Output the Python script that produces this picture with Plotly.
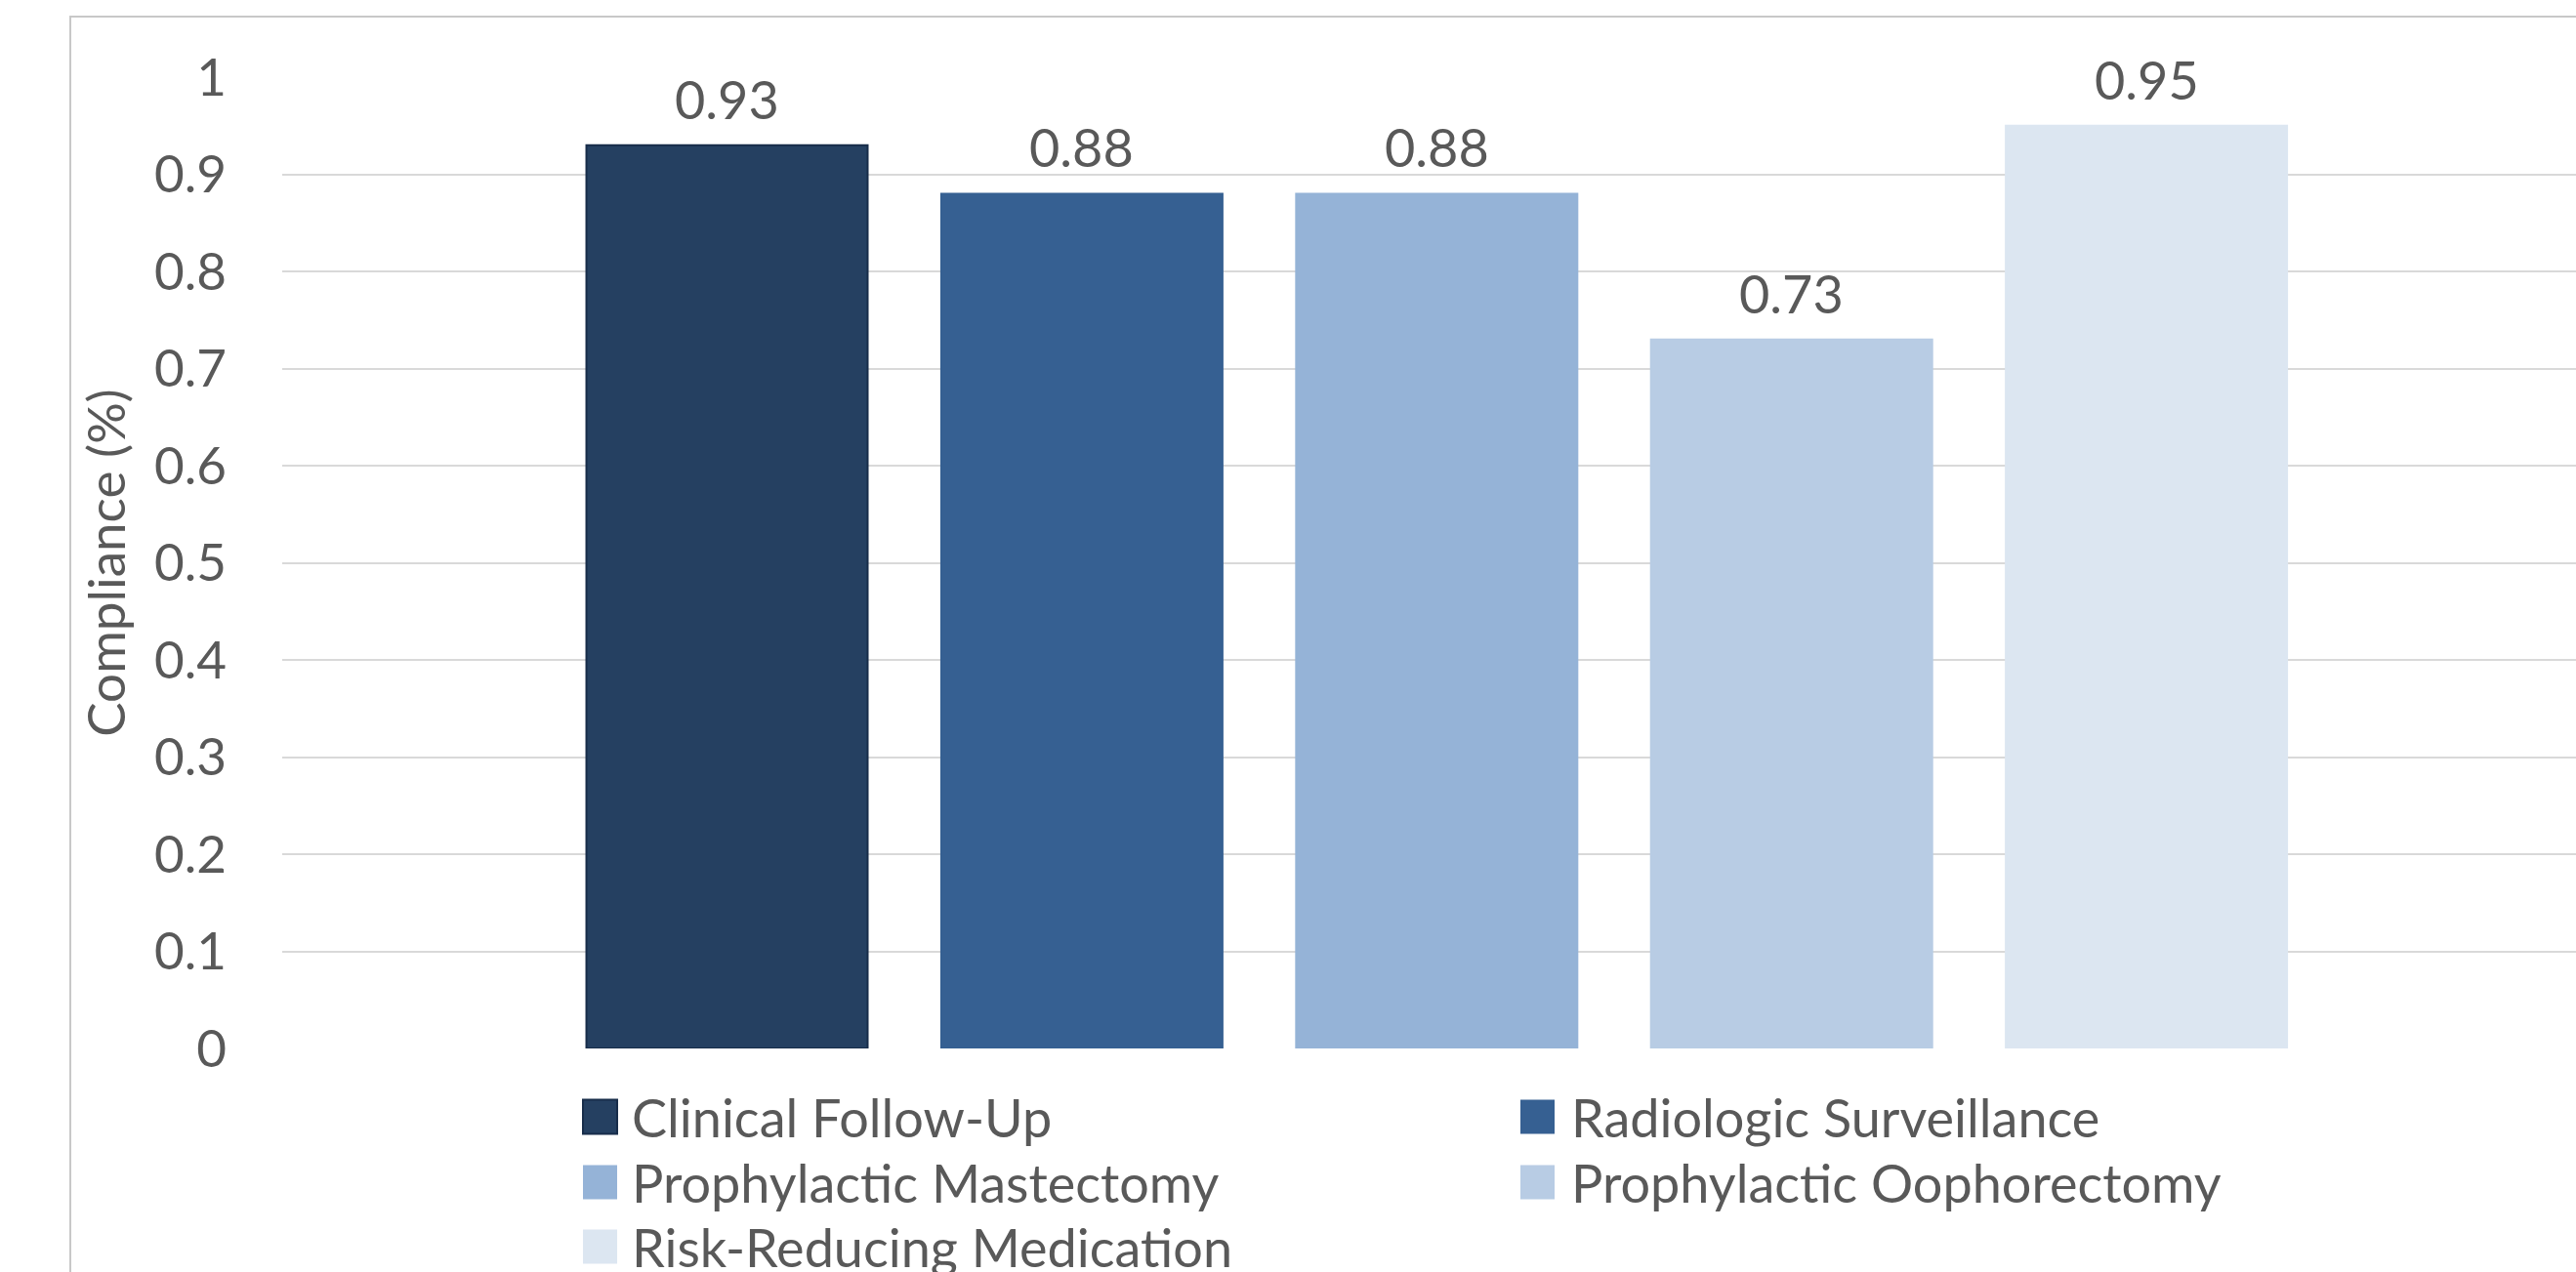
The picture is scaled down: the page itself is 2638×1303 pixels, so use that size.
import plotly.graph_objects as go

# Data
categories = [
    "Clinical Follow-Up",
    "Radiologic Surveillance",
    "Prophylactic Mastectomy",
    "Prophylactic Oophorectomy",
    "Risk-Reducing Medication",
]
compliance = [0.93, 0.88, 0.88, 0.73, 0.95]
y_ticks = [0, 0.1, 0.2, 0.3, 0.4, 0.5, 0.6, 0.7, 0.8, 0.9, 1]

# Styling
bar_colors = ["#254061", "#366092", "#95B3D7", "#B8CCE4", "#DCE6F1"]
bar_edges = ["#182d4a", "#366092", "#95B3D7", "#B8CCE4", "#DCE6F1"]
FONT = "Lato"
TEXT = "#595959"
FS = 53

W, H = 2638, 1303
ML, MR, MT, MB = 289, 0, 79, 229
PW, PH = W - ML - MR, H - MT - MB


def px_x(x):
    return (x - ML) / PW


def px_y(y):
    return (H - MB - y) / PH


fig = go.Figure()
for name, val, col, edge in zip(categories, compliance, bar_colors, bar_edges):
    fig.add_trace(go.Bar(
        x=[name], y=[val], name=name, width=0.7925,
        marker=dict(color=col, line=dict(color=edge, width=2)),
        showlegend=False, hoverinfo="x+y",
    ))

# Value labels above the bars
annotations = []
for name, val in zip(categories, compliance):
    annotations.append(dict(
        x=name, y=val, xref="x", yref="y", text=f"{val:g}",
        showarrow=False, yanchor="bottom", yshift=13,
        font=dict(family=FONT, size=FS + 1, color=TEXT),
    ))

# Two-column legend below the plot
shapes = []
col_swatch_x = [597, 1557]
col_text_x = [645, 1607]
row_y = [1144, 1211, 1277]
SW = 35
for i, (name, col, edge) in enumerate(zip(categories, bar_colors, bar_edges)):
    c, r = i % 2, i // 2
    sx, cy = col_swatch_x[c], row_y[r]
    shapes.append(dict(
        type="rect", xref="paper", yref="paper",
        x0=px_x(sx), x1=px_x(sx + SW),
        y0=px_y(cy + SW / 2), y1=px_y(cy - SW / 2),
        fillcolor=col, line=dict(color=edge, width=2 if i == 0 else 0),
    ))
    annotations.append(dict(
        x=px_x(col_text_x[c]), y=px_y(cy), xref="paper", yref="paper",
        text=name, showarrow=False, xanchor="left", yanchor="middle",
        font=dict(family=FONT, size=FS + 1, color=TEXT),
    ))

# Chart frame
shapes.append(dict(
    type="rect", xref="paper", yref="paper",
    x0=px_x(72), x1=px_x(W + 40), y0=px_y(H + 40), y1=px_y(17),
    line=dict(color="#c8c8c8", width=2), fillcolor="rgba(0,0,0,0)",
    layer="below",
))

fig.update_layout(
    width=W, height=H,
    margin=dict(l=ML, r=MR, t=MT, b=MB, pad=0),
    paper_bgcolor="white", plot_bgcolor="white",
    barmode="overlay",
    font=dict(family=FONT, size=FS, color=TEXT),
    xaxis=dict(
        type="category", categoryorder="array", categoryarray=categories,
        range=[-1.2535, 5.2105], showticklabels=False, showgrid=False,
        zeroline=False, showline=False, ticks="",
    ),
    yaxis=dict(
        range=[0, 1], tickvals=y_ticks, ticktext=[f"{v:g}" for v in y_ticks],
        showgrid=True, gridcolor="#d9d9d9", gridwidth=2,
        zeroline=False, showline=False, ticks="",
        ticklabelstandoff=56,
        tickfont=dict(family=FONT, size=FS, color=TEXT),
        title=dict(text="Compliance (%)", standoff=12,
                   font=dict(family=FONT, size=FS, color=TEXT)),
    ),
    annotations=annotations,
    shapes=shapes,
    showlegend=False,
)

fig.write_html("out.html")
